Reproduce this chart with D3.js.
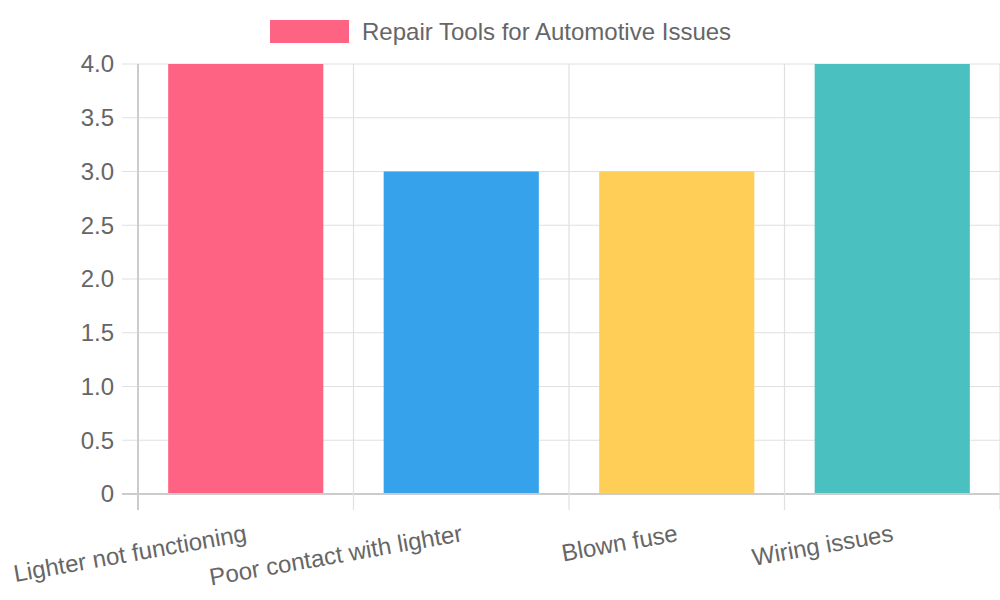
<!DOCTYPE html>
<html lang="en">
<head>
    <meta charset="utf-8">
    <title>Repair Tools for Automotive Issues</title>
    <script src="https://cdn.jsdelivr.net/npm/d3@7"></script>
    <style>
        body { margin: 0; background: #fff; }
        text { font-family: "Liberation Sans", Arial, sans-serif; fill: #666; }
    </style>
</head>
<body>
    <div id="chart"></div>
    <script type="text/javascript">
        var categories = ['Lighter not functioning', 'Poor contact with lighter', 'Blown fuse', 'Wiring issues'];
        var values = [4, 3, 3, 4];
        var barColors = ['#FF6384', '#36A2EB', '#FFCE56', '#4BC0C0'];
        var yTicks = [0, 0.5, 1, 1.5, 2, 2.5, 3, 3.5, 4];
        var seriesName = 'Repair Tools for Automotive Issues';

        var svgWidth = 1000, svgHeight = 600;
        var plotLeft = 138, plotRight = 1000, plotTop = 64, plotBottom = 494;

        var svg = d3.select('#chart').append('svg')
            .attr('width', svgWidth)
            .attr('height', svgHeight);

        var xScale = d3.scaleBand().domain(categories).range([plotLeft, plotRight]);
        var yScale = d3.scaleLinear().domain([0, 4]).range([plotBottom, plotTop]);

        // horizontal grid
        svg.append('g').selectAll('line')
            .data(yTicks)
            .enter().append('line')
            .attr('x1', plotLeft - 16).attr('x2', plotRight)
            .attr('y1', d => yScale(d)).attr('y2', d => yScale(d))
            .attr('stroke', d => d === 0 ? '#cccccc' : '#e0e0e0')
            .attr('stroke-width', d => d === 0 ? 2 : 1.2);

        // vertical grid
        var xEdges = categories.map(c => xScale(c)).concat([plotRight]);
        svg.append('g').selectAll('line')
            .data(xEdges)
            .enter().append('line')
            .attr('x1', d => d).attr('x2', d => d)
            .attr('y1', plotTop).attr('y2', plotBottom + 16)
            .attr('stroke', (d, i) => i === 0 ? '#cccccc' : '#e0e0e0')
            .attr('stroke-width', (d, i) => i === 0 ? 2 : 1.2);

        // y labels
        svg.append('g').selectAll('text')
            .data(yTicks)
            .enter().append('text')
            .attr('x', plotLeft - 24)
            .attr('y', d => yScale(d))
            .attr('dy', '0.35em')
            .attr('text-anchor', 'end')
            .style('font-size', '24px')
            .text(d => d === 0 ? '0' : d.toFixed(1));

        // bars
        var barW = xScale.bandwidth() * 0.72;
        svg.append('g').selectAll('rect')
            .data(categories)
            .enter().append('rect')
            .attr('x', d => xScale(d) + (xScale.bandwidth() - barW) / 2)
            .attr('y', (d, i) => yScale(values[i]))
            .attr('width', barW)
            .attr('height', (d, i) => yScale(0) - yScale(values[i]) - 1)
            .attr('fill', (d, i) => barColors[i]);

        // x labels
        svg.append('g').selectAll('text')
            .data(categories)
            .enter().append('text')
            .attr('transform', d => `translate(${xScale(d) + xScale.bandwidth() / 2 + 2}, 541) rotate(-10)`)
            .attr('text-anchor', 'end')
            .style('font-size', '24px')
            .text(d => d);

        // legend
        var legend = svg.append('g');
        legend.append('rect')
            .attr('x', 270).attr('y', 20)
            .attr('width', 79).attr('height', 23)
            .attr('fill', barColors[0]);
        legend.append('text')
            .attr('x', 362).attr('y', 31.5)
            .attr('dy', '0.35em')
            .style('font-size', '24px')
            .text(seriesName);
    </script>
</body>
</html>
